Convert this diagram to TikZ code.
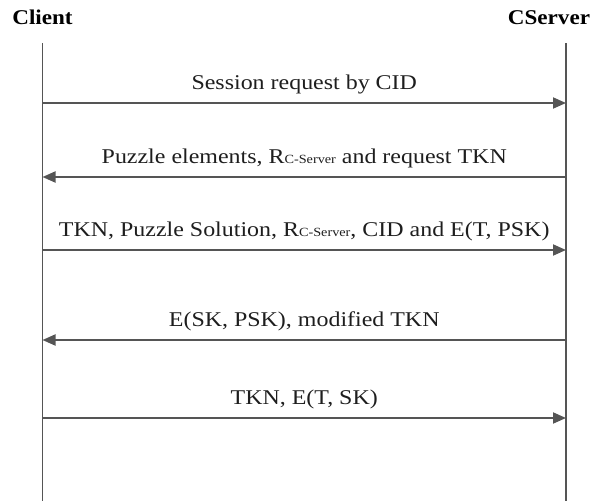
\documentclass[tikz,border=0pt]{standalone}
\usepackage{fontspec}
\setmainfont{Liberation Serif}
\usetikzlibrary{arrows.meta, positioning}
\definecolor{linegray}{RGB}{85,85,85}
\definecolor{textdark}{RGB}{30,30,30}
\newcommand{\rcserver}{R{\fontsize{12.5}{12}\selectfont C-Server}}
\tikzset{
  lifeline/.style={draw=linegray, line width=1.9pt},
  msg/.style={draw=linegray, line width=1.9pt, -{Triangle[length=13pt,width=11pt]}},
  msglabel/.style={anchor=base, yshift=14pt, xscale=1.14, inner sep=0pt, text=textdark, font=\fontsize{21}{23}\selectfont},
  party/.style={anchor=base, xscale=1.1, inner sep=0pt, text=black, font=\fontsize{21}{24}\selectfont\bfseries}
}

\begin{document}
\begin{tikzpicture}[x=1pt, y=-1pt]
	\useasboundingbox (0,0) rectangle (592,501);

	% the two parties
	\node[party] (client) at (42.5,24) {Client};
	\node[party] (cserver) at (549,24) {CServer};

	% lifelines
	\coordinate (ctop) at (42.5,43);
	\coordinate (cbot) at (42.5,501);
	\coordinate (stop) at (566,43);
	\coordinate (sbot) at (566,501);
	\draw[lifeline] (ctop) -- (cbot);
	\draw[lifeline] (stop) -- (sbot);

	% message ends on the lifelines
	\coordinate (c1) at (42.5,103);
	\coordinate (s1) at (566,103);
	\coordinate (c2) at (42.5,177);
	\coordinate (s2) at (566,177);
	\coordinate (c3) at (42.5,250);
	\coordinate (s3) at (566,250);
	\coordinate (c4) at (42.5,340);
	\coordinate (s4) at (566,340);
	\coordinate (c5) at (42.5,418);
	\coordinate (s5) at (566,418);

	% messages
	\draw[msg] (c1) -- node[msglabel] (m1) {Session request by CID} (s1);
	\draw[msg] (s2) -- node[msglabel] (m2) {Puzzle elements, \rcserver{} and request TKN} (c2);
	\draw[msg] (c3) -- node[msglabel] (m3) {TKN, Puzzle Solution, \rcserver, CID and E(T, PSK)} (s3);
	\draw[msg] (s4) -- node[msglabel] (m4) {E(SK, PSK), modified TKN} (c4);
	\draw[msg] (c5) -- node[msglabel] (m5) {TKN, E(T, SK)} (s5);
\end{tikzpicture}
\end{document}
